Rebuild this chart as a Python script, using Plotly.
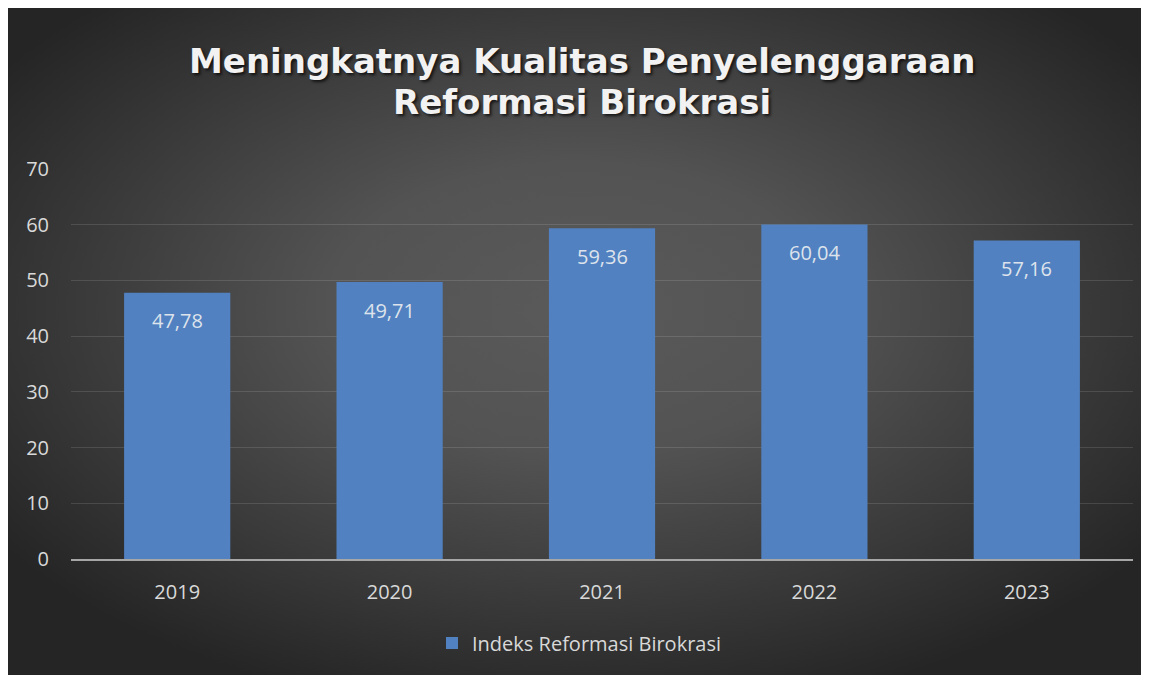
import base64
import plotly.graph_objects as go

# data
years = ["2019", "2020", "2021", "2022", "2023"]
indeks = [47.78, 49.71, 59.36, 60.04, 57.16]
series_name = "Indeks Reformasi Birokrasi"
title_lines = ["Meningkatnya Kualitas Penyelenggaraan", "Reformasi Birokrasi"]
y_ticks = [0, 10, 20, 30, 40, 50, 60, 70]

# page body adds an 8px margin, the figure sits inside it
OFF = 8
W, H = 1149 - OFF, 675 - OFF
ML, MR, MT, MB = 71 - OFF, 16, 169 - OFF, 116
PW, PH = W - ML - MR, H - MT - MB


def px_x(x):  # screen pixel -> paper
    return (x - OFF - ML) / PW


def px_y(y):
    return (H - MB - (y - OFF)) / PH


# radial dark background as an svg image
svg = ('<svg xmlns="http://www.w3.org/2000/svg" width="1141" height="667" preserveAspectRatio="none">'
       '<defs><radialGradient id="g" cx="50%" cy="45%" r="62%">'
       '<stop offset="0" stop-color="#5a5a5a"/><stop offset="0.35" stop-color="#535353"/>'
       '<stop offset="1" stop-color="#252525"/></radialGradient></defs>'
       '<rect width="100%" height="100%" fill="url(#g)"/></svg>')
bg_src = "data:image/svg+xml;base64," + base64.b64encode(svg.encode()).decode()

fig = go.Figure()
fig.add_trace(go.Bar(x=years, y=indeks, name=series_name,
                     marker=dict(color="#5181c0", line=dict(width=0)),
                     hoverinfo="x+y"))

annotations = []
# data labels, decimal comma (x given as category index)
for i, v in enumerate(indeks):
    annotations.append(dict(x=i, y=v, xref="x", yref="y", text=f"{v:.2f}".replace(".", ","),
                            showarrow=False, yanchor="middle", yshift=-28,
                            font=dict(family="Open Sans", size=20, color="#dde3ec")))
# title
for i, line in enumerate(title_lines):
    annotations.append(dict(x=px_x(582), y=px_y(60.5 + 42 * i), xref="paper", yref="paper",
                            text=line, showarrow=False, xanchor="center", yanchor="middle",
                            font=dict(family="DejaVu Sans", size=34, color="#f2f2f2", weight="bold",
                                      shadow="2px 2px 3px rgba(0,0,0,0.7)")))

fig.update_layout(
    width=W, height=H,
    margin=dict(l=ML, r=MR, t=MT, b=MB, autoexpand=False),
    paper_bgcolor="#2b2b2b", plot_bgcolor="rgba(0,0,0,0)",
    bargap=0.5,
    showlegend=True,
    legend=dict(orientation="h", x=px_x(432), xanchor="left", y=px_y(643), yanchor="middle",
                font=dict(family="Open Sans", size=20, color="#d9d9d9"),
                bgcolor="rgba(0,0,0,0)"),
    images=[dict(source=bg_src, xref="paper", yref="paper",
                 x=px_x(OFF), y=px_y(OFF), sizex=W / PW, sizey=H / PH,
                 xanchor="left", yanchor="top", sizing="stretch", layer="below")],
    annotations=annotations,
    font=dict(family="Open Sans", size=20, color="#d9d9d9"),
)
fig.update_xaxes(type="category", range=[-0.5, len(years) - 0.5], showgrid=False,
                 showline=True, linecolor="#a6a6a6", linewidth=2,
                 ticks="", ticklabelstandoff=14, tickfont=dict(size=20, color="#d9d9d9"))
fig.update_yaxes(range=[0, 70], tickvals=y_ticks, showgrid=True, gridcolor="rgba(255,255,255,0.12)",
                 gridwidth=1, zeroline=False, showline=False, ticks="", ticklabelstandoff=21,
                 tickfont=dict(size=20, color="#d9d9d9"))

fig.write_html("out.html")
